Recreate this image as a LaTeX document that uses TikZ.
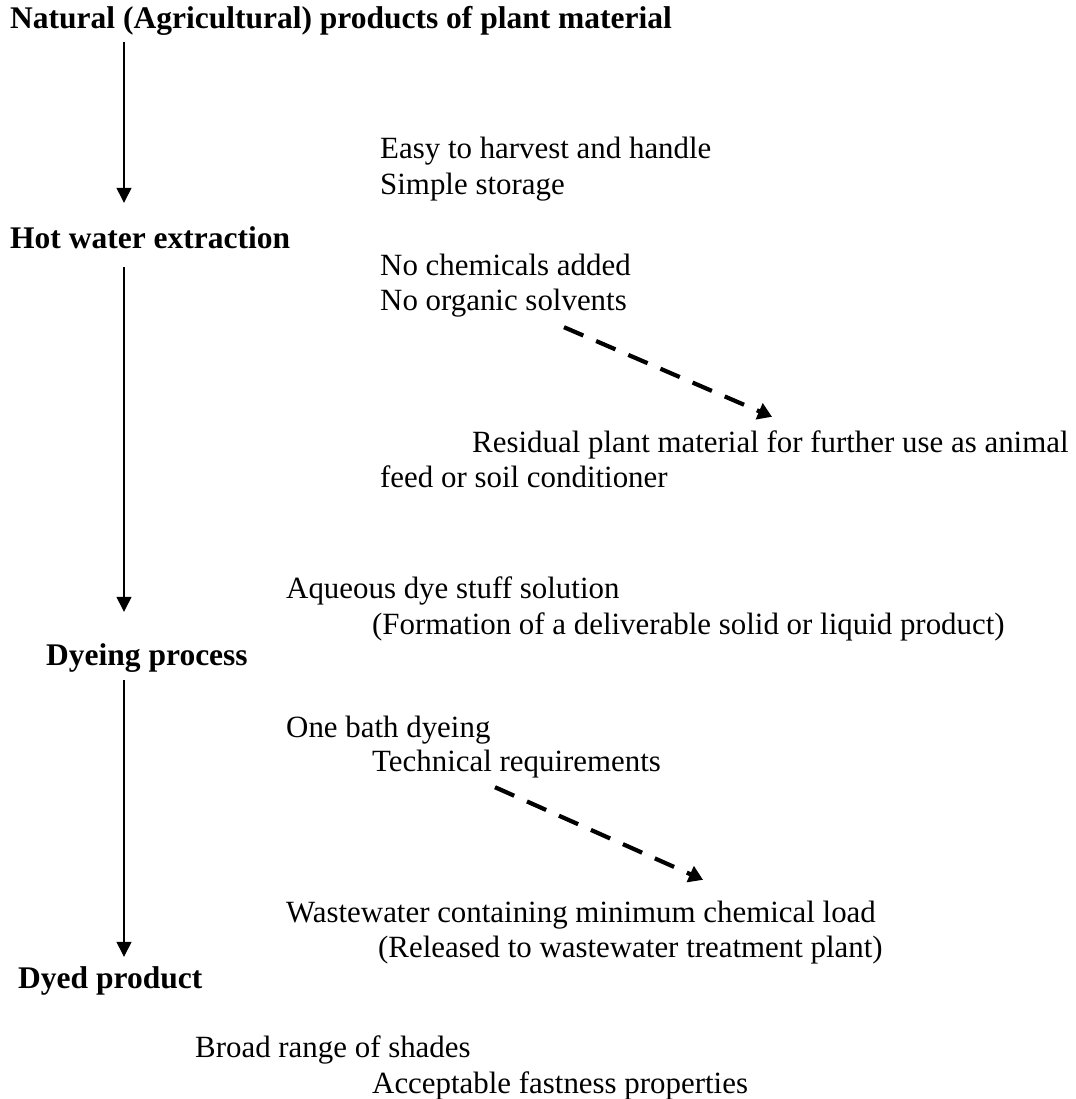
\documentclass[tikz,border=0pt]{standalone}
\usepackage{fontspec}
\setmainfont{Liberation Serif}
\usetikzlibrary{arrows.meta,calc}
\begin{document}
\begin{tikzpicture}[x=1pt,y=-1pt,
 txt/.style={inner sep=0pt,anchor=base west,font=\fontsize{30.9}{36}\selectfont,text height=22pt,text depth=7pt},
 head/.style={txt,font=\fontsize{31.5}{36}\selectfont\bfseries},
 flow/.style={line width=1.3pt,-{Triangle[width=15pt,length=15pt]}},
 side/.style={line width=4.2pt,dash pattern=on 21pt off 14pt,-{Triangle[width=17pt,length=14pt]}}]
\useasboundingbox[fill=white] (0,0) rectangle (1075,1099);
\coordinate (ax) at (124,0);
% main steps
\node[head] (nat) at (10,29) {Natural (Agricultural) products of plant material};
\node[head] (hot) at (10,248) {Hot water extraction};
\node[head] (dye) at (46,665) {Dyeing process};
\node[head] (dyed) at (18,988) {Dyed product};
% side notes
\node[txt] (easy) at (380,159) {Easy to harvest and handle};
\node[txt] (simple) at (380,195) {Simple storage};
\node[txt] (nochem) at (380,275) {No chemicals added};
\node[txt] (noorg) at (380,310) {No organic solvents};
\node[txt] (resid) at (472,452) {Residual plant material for further use as animal};
\node[txt] (feed) at (380,487) {feed or soil conditioner};
\node[txt] (aq) at (286,598) {Aqueous dye stuff solution};
\node[txt] (form) at (372,634) {(Formation of a deliverable solid or liquid product)};
\node[txt] (bath) at (286,737) {One bath dyeing};
\node[txt] (tech) at (372,771) {Technical requirements};
\node[txt] (waste) at (286,922) {Wastewater containing minimum chemical load};
\node[txt] (rel) at (378,957) {(Released to wastewater treatment plant)};
\node[txt] (broad) at (195,1057) {Broad range of shades};
\node[txt] (acc) at (372,1093) {Acceptable fastness properties};
% vertical flow
\draw[flow,shorten <=6pt,shorten >=23pt] (nat.south -| ax) -- (hot.north -| ax);
\draw[flow,shorten <=12pt,shorten >=31pt] (hot.south -| ax) -- (dye.north -| ax);
\draw[flow,shorten <=8pt,shorten >=9pt] (dye.south -| ax) -- (dyed.north -| ax);
% dashed side arrows
\draw[side] ($(noorg.south west)+(184,10)$) -- ($(resid.north west)+(300,-13)$);
\draw[side] ($(tech.south west)+(123,9)$) -- ($(waste.north west)+(417,-20)$);
\end{tikzpicture}
\end{document}
